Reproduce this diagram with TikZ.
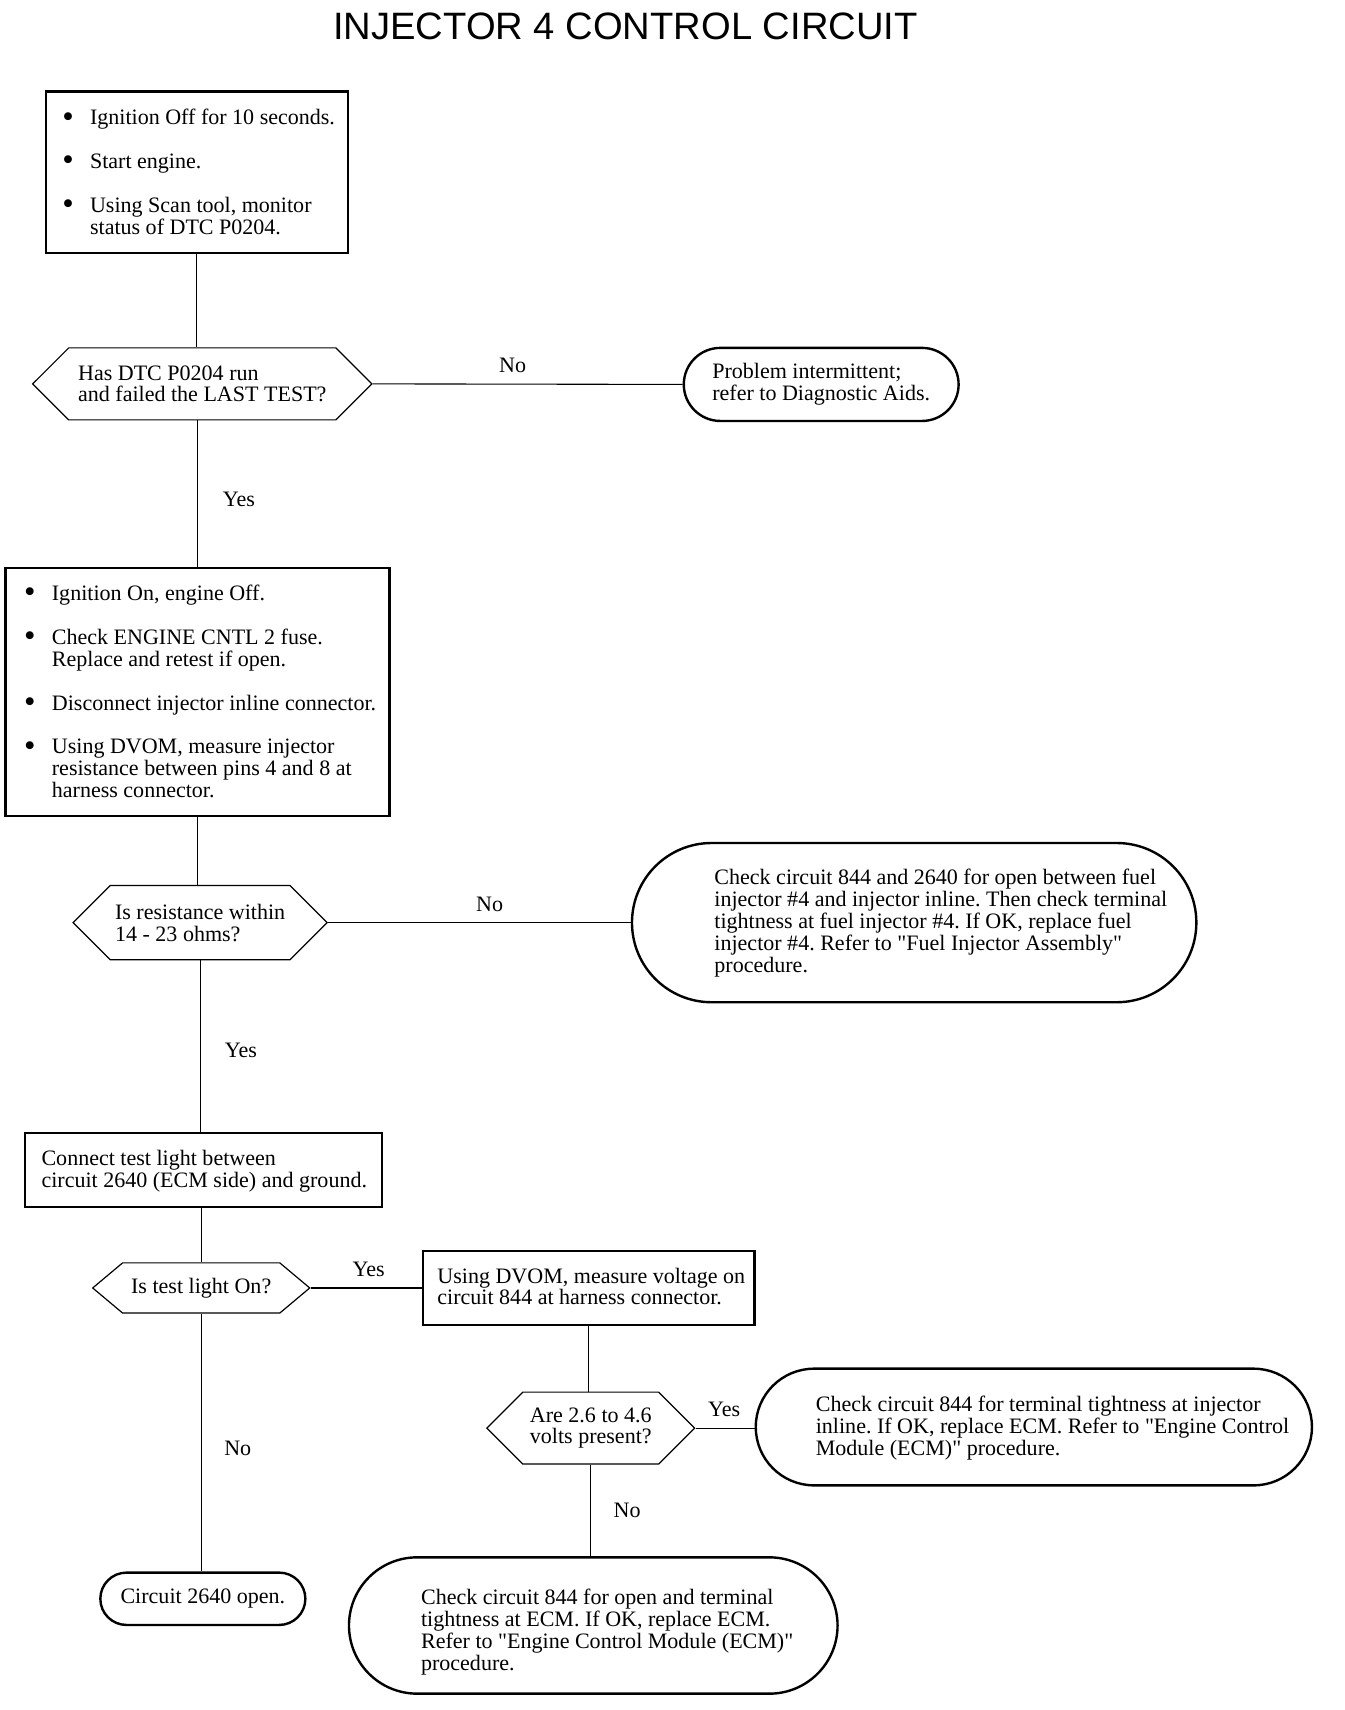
\documentclass[tikz,border=0pt]{standalone}
\usepackage{fontspec}
\setmainfont{Liberation Serif}[Ligatures=TeXOff]
\newfontfamily\titlefont{Liberation Sans}
\usetikzlibrary{shapes.symbols,shapes.misc}
\newcommand\bl{\raisebox{-2pt}{\fontsize{30}{20}\selectfont\textbullet}}
\newcommand\tl[1]{\begin{tabular}{@{}l@{}}#1\end{tabular}}
\newcommand\bt[1]{\begin{tabular}{@{}p{25.5pt}@{}l@{}}#1\end{tabular}}
\begin{document}
\frenchspacing
\begin{tikzpicture}[x=1pt,y=1pt,
  every node/.style={font=\fontsize{20.2}{20}\selectfont},
  sbox/.style={draw, line width=2.2pt, rectangle, inner sep=0pt},
  hexa/.style={draw, line width=1.1pt, signal, signal to=west and east, signal pointer angle=90, inner sep=0pt, align=left},
  term/.style={draw, line width=2.2pt, rounded rectangle, inner sep=0pt, align=left},
  txt/.style={anchor=west, align=left, inner sep=0pt},
  conn/.style={line width=1pt},
  lab/.style={inner sep=0pt}
]
\useasboundingbox (0,0) rectangle (1232.4,-1568);

\node[font=\titlefont\fontsize{35}{35}\selectfont, inner sep=0pt] (title) at (573.5,-24) {INJECTOR 4 CONTROL CIRCUIT};

% shapes
\node[sbox, minimum width=277, minimum height=148] (b1) at (180.5,-158) {};
\node[txt] (b1t) at ([xshift=16,yshift=-2.5]b1.west) {\bt{\bl & Ignition Off for 10 seconds.\\[20pt]
\bl & Start engine.\\[20pt]
\bl & Using Scan tool, monitor\\
 & status of DTC P0204.}};

\node[hexa, minimum width=311, minimum height=66] (d1) at (185.5,-352) {Has DTC P0204 run\\and failed the LAST TEST?};
\node[term, minimum width=252, minimum height=67] (t1) at (753,-352.5) {Problem intermittent;\\refer to Diagnostic Aids.};

\node[sbox, minimum width=352, minimum height=227] (b2) at (181,-634.5) {};
\node[txt] (b2t) at ([xshift=18,yshift=-2.5]b2.west) {\bt{\bl & Ignition On, engine Off.\\[20pt]
\bl & Check ENGINE CNTL 2 fuse.\\
 & Replace and retest if open.\\[20pt]
\bl & Disconnect injector inline connector.\\[20pt]
\bl & Using DVOM, measure injector\\
 & resistance between pins 4 and 8 at\\
 & harness connector.}};

\node[hexa, minimum width=233, minimum height=68] (d2) at (183.5,-846) {Is resistance within\\14 - 23 ohms?};
\node[term, minimum width=517.5, minimum height=146] (t2) at (838.25,-846) {};
\node[txt] (t2t) at ([xshift=76.5,yshift=-1.5]t2.west) {\tl{Check circuit 844 and 2640 for open between fuel\\
injector \#4 and injector inline. Then check terminal\\
tightness at fuel injector \#4. If OK, replace fuel\\
injector \#4. Refer to "Fuel Injector Assembly"\\
procedure.}};

\node[sbox, minimum width=327, minimum height=68] (b3) at (186.5,-1073) {};
\node[txt] (b3t) at ([xshift=16,yshift=-1.5]b3.west) {\tl{Connect test light between\\circuit 2640 (ECM side) and ground.}};

\node[hexa, signal pointer angle=80, minimum width=199, minimum height=46] (d3) at (184.5,-1181) {Is test light On?};

\node[sbox, minimum width=304, minimum height=68] (b4) at (540,-1181) {};
\node[txt] (b4t) at ([xshift=14,yshift=-1.5]b4.west) {\tl{Using DVOM, measure voltage on\\circuit 844 at harness connector.}};

\node[hexa, minimum width=190.5, minimum height=66] (d4) at (541.75,-1309.5) {Are 2.6 to 4.6\\volts present?};

\node[term, minimum width=510, minimum height=107] (t3) at (948,-1308.5) {};
\node[txt] (t3t) at ([xshift=56,yshift=-2]t3.west) {\tl{Check circuit 844 for terminal tightness at injector\\
inline. If OK, replace ECM. Refer to "Engine Control\\
Module (ECM)" procedure.}};

\node[term, minimum width=448, minimum height=125] (t4) at (544,-1490.5) {};
\node[txt] (t4t) at ([xshift=67,yshift=-7]t4.west) {\tl{Check circuit 844 for open and terminal\\
tightness at ECM. If OK, replace ECM.\\
Refer to "Engine Control Module (ECM)"\\
procedure.}};

\node[term, minimum width=188, minimum height=48] (t5) at (186,-1466) {Circuit 2640 open.};

% connectors
\draw[conn] (b1.south) -- (b1.south |- d1.north);
\draw[conn] (d1.east) -- (t1.west);
\draw[conn] (b2.north |- d1.south) -- (b2.north);
\draw[conn] (b2.south) -- (b2.south |- d2.north);
\draw[conn] (d2.east) -- (t2.west);
\draw[conn] (d2.south) -- (d2.south |- b3.north);
\draw[conn] (d3.north |- b3.south) -- (d3.north);
\draw[conn] (d3.east) -- (b4.west);
\draw[conn] (b4.south) -- (b4.south |- d4.north);
\draw[conn] (d4.east) -- (d4.east -| t3.west);
\draw[conn] (d4.south) -- (d4.south |- t4.north);
\draw[conn] (d3.south) -- (d3.south |- t5.north);

% labels
\node[lab] (no1) at (470,-335) {No};
\node[lab] (yes1) at (219,-458) {Yes};
\node[lab] (no2) at (449,-829) {No};
\node[lab] (yes2) at (221,-963) {Yes};
\node[lab] (yes3) at (338,-1164) {Yes};
\node[lab] (yes4) at (664,-1292) {Yes};
\node[lab] (no4) at (575,-1385) {No};
\node[lab] (no3) at (218,-1328) {No};
\end{tikzpicture}
\end{document}
